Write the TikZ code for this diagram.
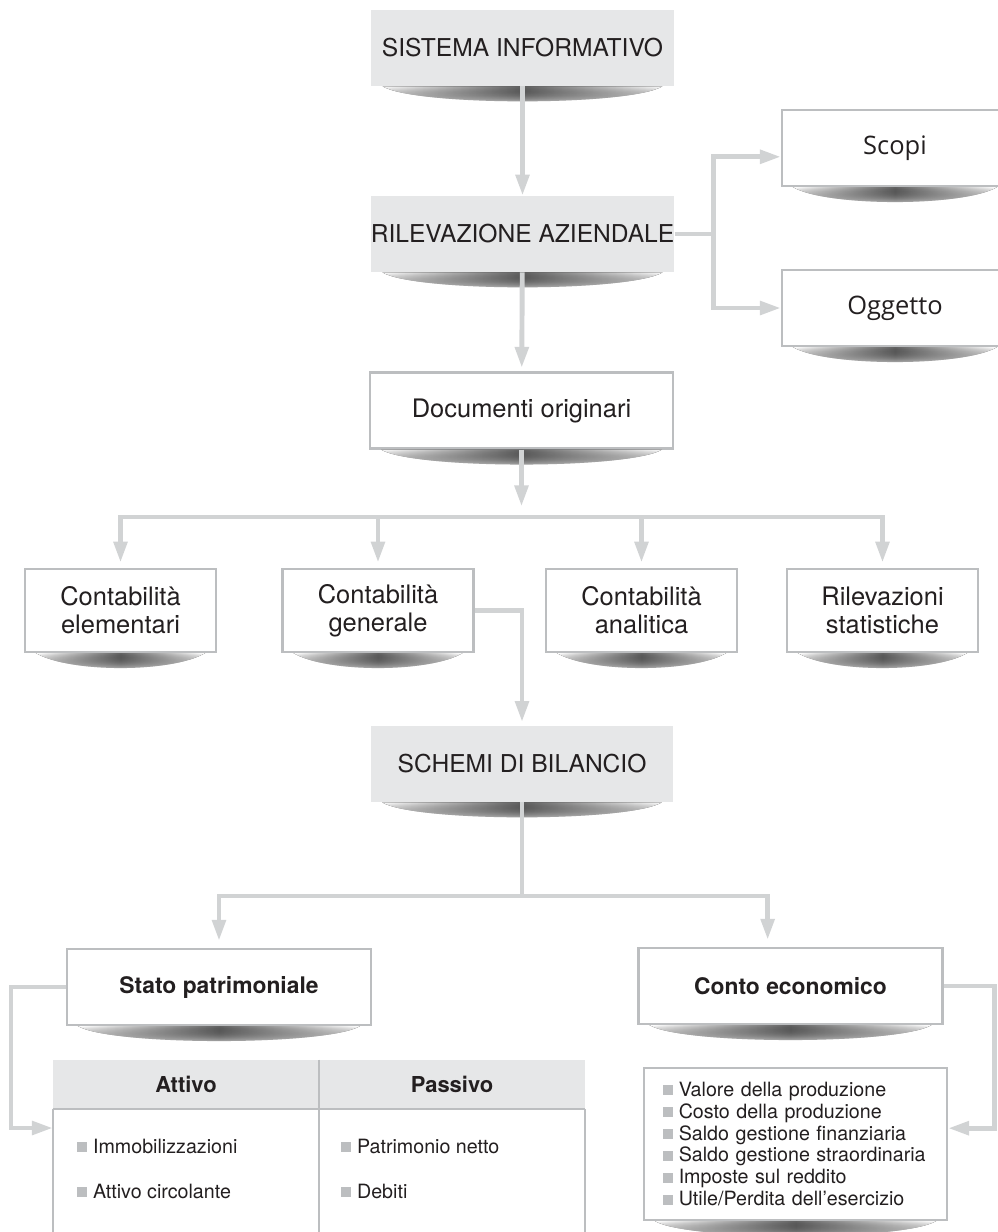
\documentclass[tikz,border=0pt]{standalone}
\usepackage{fontspec}
\setmainfont{TeX Gyre Heros}
\newfontfamily\opensans{Open Sans}
\usepackage{xcolor}
\usepackage{tikz}
\usetikzlibrary{arrows.meta,positioning,calc,fadings}
\definecolor{panelgray}{RGB}{230,231,232}
\definecolor{framegray}{RGB}{188,190,192}
\definecolor{linkgray}{RGB}{209,211,212}
\definecolor{inkdark}{RGB}{35,31,32}
\newcommand{\sqbullet}{{\color{framegray}\rule[0.1ex]{0.5em}{0.5em}}\hspace{0.3em}}
\newcommand{\boxshade}[1]{%
  \fill[shade, left color=white, right color=white, middle color=black!62, path fading=south]
    ($(#1.south west)+(12,0)$) -- ($(#1.south east)+(-12,0)$)
    .. controls ($(#1.south east)+(-45,20)$) and ($(#1.south west)+(45,20)$) .. cycle;}

\begin{document}
\begin{tikzpicture}[x=0.02cm, y=-0.02cm,
    every node/.style={font=\fontsize{14.5}{16}\selectfont, text=inkdark, inner sep=0pt},
    headbox/.style={fill=panelgray, minimum width=6.06cm, minimum height=1.52cm, font=\fontsize{14}{16}\selectfont},
    framebox/.style={draw=framegray, line width=1.2pt, fill=white, minimum width=6.06cm, minimum height=1.52cm},
    smallbox/.style={framebox, minimum width=3.82cm, minimum height=1.66cm, align=center},
    boldbox/.style={framebox, minimum width=6.08cm, font=\fontsize{13}{15}\selectfont\bfseries},
    colhead/.style={fill=panelgray, minimum width=5.32cm, minimum height=0.98cm, font=\fontsize{12.5}{14}\selectfont\bfseries},
    item/.style={anchor=west, font=\fontsize{11.2}{12.4}\selectfont},
    conn/.style={draw=linkgray, line width=2.8pt},
    arr/.style={conn, -{Triangle[length=12pt,width=7.5pt]}}]
    \useasboundingbox (0,0) rectangle (998,1232);

    % Top chain
    \node[headbox] (sis) at (522.5,48) {SISTEMA INFORMATIVO};
    \node[headbox] (ril) at (522.5,234) {RILEVAZIONE AZIENDALE};
    \node[framebox] (doc) at (521.5,410.5) {Documenti originari};
    \node[framebox, minimum width=4.52cm, font=\opensans\fontsize{14.5}{16}\selectfont] (scopi) at (895,148) {Scopi};
    \node[framebox, minimum width=4.52cm, font=\opensans\fontsize{14.5}{16}\selectfont] (ogg) at (895,308) {Oggetto};

    % Kinds of accounting
    \node[smallbox] (e1) at (120.5,610.5) {Contabilità\\elementari};
    \node[smallbox] (e2) at (378,610.5) {Contabilità\\generale};
    \node[smallbox] (e3) at (641.5,610.5) {Contabilità\\analitica};
    \node[smallbox] (e4) at (882.5,610.5) {Rilevazioni\\statistiche};

    % Financial statements
    \node[headbox] (sch) at (522,764) {SCHEMI DI BILANCIO};
    \node[boldbox] (sp) at (219,987) {Stato patrimoniale};
    \node[boldbox] (ce) at (790.5,986) {Conto economico};

    % Balance sheet table
    \node[colhead] (att) at (186,1084.5) {Attivo};
    \node[colhead] (pas) at (452,1084.5) {Passivo};
    \draw[framegray, line width=1.2pt] (att.south west) -- (pas.south east);
    \draw[framegray, line width=1.2pt] (att.south west) -- ++(0,140);
    \draw[framegray, line width=1.2pt] (att.north east) -- ++(0,190);
    \draw[framegray, line width=1.2pt] (pas.south east) -- ++(0,140);
    \node[item] (imm) at (77,1146) {\sqbullet Immobilizzazioni};
    \node[item] (circ) at (77,1191) {\sqbullet Attivo circolante};
    \node[item] (pn) at (341,1146) {\sqbullet Patrimonio netto};
    \node[item] (deb) at (341,1191) {\sqbullet Debiti};

    % Income statement list
    \node[framebox, minimum height=3.04cm, align=left, font=\fontsize{11.2}{12.5}\selectfont, text width=5.3cm, inner sep=0pt] (list) at (795.5,1144)
        {\sqbullet Valore della produzione\\ \sqbullet Costo della produzione\\ \sqbullet Saldo gestione finanziaria\\
         \sqbullet Saldo gestione straordinaria\\ \sqbullet Imposte sul reddito\\ \sqbullet Utile/Perdita dell'esercizio};

    % Shadows
    \foreach \b in {sis,ril,doc,scopi,ogg,e1,e2,e3,e4,sch,sp,ce,list}
        \boxshade{\b};

    % Connectors
    \draw[arr] (sis) -- (ril);
    \draw[conn] (ril.east) -- ++(39,0) coordinate (rsplit);
    \draw[arr] (rsplit) |- ([yshift=-5pt]scopi.west);
    \draw[arr] (rsplit) |- (ogg.west);
    \draw[arr, shorten >=2pt] (ril) -- (doc);
    \draw[arr] (doc.south) -- ++(0,57);
    \coordinate (dbar) at (522,517);
    \draw[arr, shorten >=3pt] (dbar) -| (e1.north);
    \draw[arr, shorten >=3pt] (dbar) -| (e4.north);
    \draw[arr, shorten >=3pt] (e2.north |- dbar) -- (e2.north);
    \draw[arr, shorten >=3pt] (e3.north |- dbar) -- (e3.north);
    \draw[arr, shorten >=2pt] (e2.east) -| (sch.north);
    \coordinate (sbar) at (524,896);
    \draw[conn] (sch.south) -- (sch.south |- sbar);
    \draw[arr, shorten >=4pt] (sch.south |- sbar) -| (sp.north);
    \draw[arr, shorten >=4pt] (sch.south |- sbar) -| ([xshift=-13pt]ce.north);
    \coordinate (tabin) at (53,1128);
    \draw[arr] (sp.west) -- ++(-55,0) |- (tabin);
    \draw[arr] (ce.east) -- ++(51,0) |- ([yshift=9pt]list.east);
\end{tikzpicture}
\end{document}
